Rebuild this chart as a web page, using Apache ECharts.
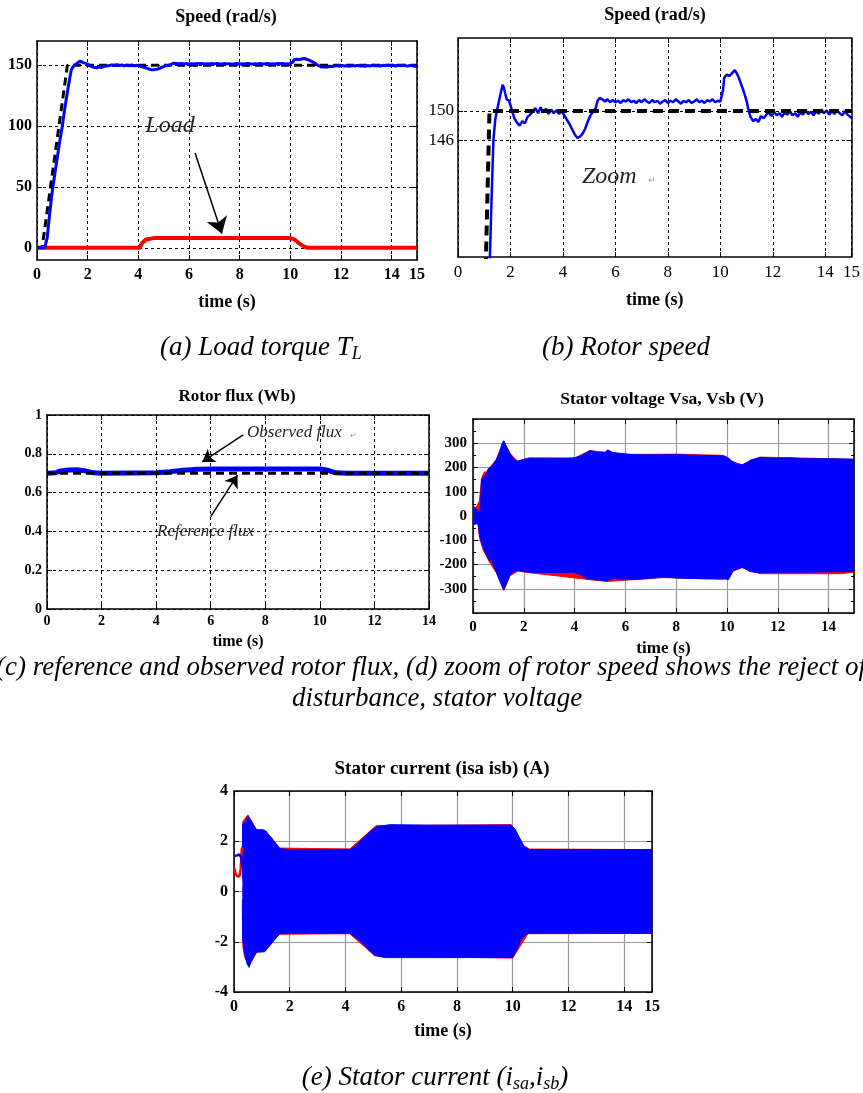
<!DOCTYPE html>
<html>
<head>
<meta charset="utf-8">
<script src="https://cdn.jsdelivr.net/npm/echarts@6/dist/echarts.min.js"></script>
<style>
html, body { margin: 0; padding: 0; background: #fff; }
#main { width: 863px; height: 1093px; }
</style>
</head>
<body>
<div id="main"></div>
<script>
// speed reference and measured speed (rad/s) vs time (s)
var speedRef = [[0, 0], [0.2, 0], [1.2, 150], [15, 150]];
var speedMeas = [
  [0, 0], [0.3, 0], [0.4, 8], [0.5, 28], [0.6, 46], [0.7, 60], [0.8, 74], [0.9, 88], [1.0, 100],
  [1.1, 115], [1.2, 128], [1.28, 138], [1.35, 146], [1.42, 148.8], [1.5, 150.3], [1.6, 152],
  [1.7, 153.6], [1.75, 153.2], [1.8, 152.4], [1.86, 151.6], [1.95, 151.4], [2.05, 150.2],
  [2.15, 149], [2.25, 148.4], [2.35, 148], [2.45, 148.6], [2.55, 148.3], [2.65, 149.2],
  [2.75, 149.5], [2.85, 149.9], [2.95, 150.4], [3.05, 149.7], [3.15, 150.5], [3.25, 149.8],
  [3.35, 150.3], [3.45, 149.6], [3.55, 150.2], [3.65, 149.7], [3.75, 150.1], [3.85, 149.6],
  [3.95, 150], [4.05, 149.4], [4.15, 148.8], [4.25, 148.2], [4.35, 147.5], [4.45, 146.8],
  [4.55, 146.3], [4.65, 146.5], [4.75, 146.9], [4.85, 147.6], [4.95, 148.6], [5.05, 149.4],
  [5.15, 149.9], [5.25, 150.4], [5.32, 151.4], [5.4, 151.8], [5.5, 151.6], [5.6, 151.3],
  [5.7, 151.6], [5.8, 151.2], [5.9, 151.5], [6.0, 151.2], [6.1, 151.4], [6.2, 151.1],
  [6.3, 151.5], [6.4, 151.3], [6.5, 151.6], [6.6, 151.2], [6.7, 151.4], [6.8, 151.1],
  [6.9, 151.5], [7.0, 151.2], [7.1, 151.6], [7.2, 151.3], [7.3, 151.1], [7.4, 151.5],
  [7.5, 151.2], [7.6, 151.4], [7.7, 151.0], [7.8, 151.3], [7.9, 151.5], [8.0, 151.1],
  [8.1, 151.4], [8.2, 151.2], [8.3, 151.6], [8.4, 151.3], [8.5, 151.0], [8.6, 151.4],
  [8.7, 151.2], [8.8, 151.5], [8.9, 151.1], [9.0, 151.3], [9.1, 151.6], [9.2, 151.2],
  [9.3, 151.4], [9.4, 151.1], [9.5, 151.5], [9.6, 151.3], [9.7, 151.6], [9.8, 151.2],
  [9.9, 151.4], [10.0, 151.3], [10.05, 151.5], [10.1, 152.8], [10.15, 154.6], [10.25, 155],
  [10.35, 154.8], [10.45, 155.2], [10.55, 155.6], [10.62, 155.2], [10.7, 154.6], [10.8, 153.6],
  [10.9, 152.6], [11.0, 151.4], [11.08, 150], [11.15, 149.2], [11.25, 148.6], [11.35, 148.9],
  [11.45, 148.5], [11.55, 149.3], [11.65, 149], [11.75, 149.5], [11.85, 149.8], [11.95, 149.3],
  [12.05, 149.9], [12.15, 149.4], [12.25, 149.7], [12.35, 149.2], [12.45, 149.8], [12.55, 149.5],
  [12.65, 150], [12.75, 149.4], [12.85, 149.7], [12.95, 149.2], [13.05, 149.8], [13.15, 149.5],
  [13.25, 150.1], [13.35, 149.6], [13.45, 149.9], [13.55, 149.4], [13.65, 150], [13.75, 149.6],
  [13.85, 150.2], [13.95, 149.7], [14.05, 150.1], [14.15, 149.5], [14.25, 150], [14.35, 149.6],
  [14.45, 150.1], [14.55, 149.7], [14.65, 149.4], [14.75, 150], [14.85, 149.5], [14.95, 149.2],
  [15, 149.1]
];
var loadTorque = [[0, 0], [4.05, 0], [4.15, 4], [4.3, 6.8], [4.6, 8], [10.0, 8], [10.15, 7],
  [10.35, 3.5], [10.55, 1], [10.7, 0], [15, 0]];

// rotor flux (Wb)
var fluxRef = [[0, 0.7], [14, 0.7]];
var fluxObs = [[0, 0.7], [0.3, 0.702], [0.5, 0.712], [0.8, 0.716], [1.1, 0.718], [1.4, 0.712],
  [1.7, 0.702], [2, 0.7], [4, 0.702], [4.5, 0.708], [5, 0.715], [5.5, 0.72], [6, 0.722],
  [10, 0.722], [10.3, 0.715], [10.6, 0.702], [11, 0.7], [14, 0.7]];

// stator voltage envelopes (V)
var vBlueUp = [[0, 25], [0.05, 38], [0.12, 35], [0.2, 20], [0.25, 5], [0.3, 40], [0.33, 150],
  [0.45, 160], [0.6, 195], [0.75, 205], [0.92, 232], [1.05, 265], [1.15, 300], [1.21, 310],
  [1.3, 290], [1.45, 259], [1.6, 235], [1.75, 226], [2.04, 234], [2.3, 237], [3, 236],
  [3.5, 237], [3.94, 239], [4.2, 245], [4.5, 262], [4.6, 270], [4.9, 262], [5.2, 262],
  [5.3, 273], [5.5, 262], [6.2, 254], [7, 252], [8, 253], [9, 250], [9.86, 248], [10.05, 240],
  [10.2, 225], [10.45, 212], [10.6, 211], [10.8, 222], [10.95, 232], [11.3, 241], [12, 238],
  [12.5, 240], [13, 236], [14, 236], [15, 234]];
var vBlueLow = [[0, -20], [0.05, -35], [0.12, -40], [0.2, -30], [0.26, -82], [0.4, -130],
  [0.55, -165], [0.66, -190], [0.7, -165], [0.8, -205], [0.92, -232], [1.05, -265], [1.21, -305],
  [1.3, -285], [1.45, -245], [1.6, -228], [1.77, -225], [2.23, -232], [3, -233], [3.94, -232],
  [4.2, -240], [4.47, -259], [4.8, -262], [5.26, -268], [5.5, -258], [6.4, -262], [7.5, -252],
  [8.5, -258], [9.86, -259], [10.06, -262], [10.25, -225], [10.6, -211], [10.9, -229],
  [11.3, -234], [12, -232], [13, -232], [14, -230], [15, -229]];
var vRedUp = [[0, 30], [0.15, 40], [0.25, 62], [0.3, 60], [0.35, 160], [0.45, 182], [0.55, 180],
  [0.65, 198], [0.92, 234], [1.21, 310], [1.45, 259], [1.75, 226], [2.2, 240], [4, 239],
  [4.6, 270], [6, 254], [8, 255], [9.86, 250], [10.2, 225], [10.6, 211], [11.3, 243], [15, 234]];
var vRedLow = [[0, -25], [0.2, -35], [0.26, -90], [0.4, -140], [0.66, -192], [0.92, -234],
  [1.21, -307], [1.45, -247], [1.77, -227], [2.23, -234], [4.47, -261], [5.26, -270],
  [7.5, -254], [9.86, -261], [10.25, -227], [10.6, -213], [11.3, -238], [14.5, -238], [15, -231]];

// stator current envelopes (A)
var iBlueUp = [[0.3, 0.5], [0.31, 2.7], [0.4, 2.75], [0.5, 3.0], [0.55, 3.05], [0.65, 2.75],
  [0.8, 2.46], [1.04, 2.46], [1.15, 2.4], [1.34, 2.13], [1.5, 1.9], [1.64, 1.71], [2, 1.66],
  [3, 1.67], [4.15, 1.68], [4.3, 1.75], [4.5, 1.97], [4.8, 2.3], [5.1, 2.58], [5.6, 2.66],
  [7, 2.64], [9, 2.64], [9.95, 2.64], [10.1, 2.46], [10.4, 1.8], [10.6, 1.67], [12, 1.67],
  [15, 1.67]];
var iBlueLow = [[0.3, -0.3], [0.31, -1.9], [0.38, -2.45], [0.46, -2.85], [0.54, -3.02],
  [0.6, -2.8], [0.8, -2.42], [1.1, -2.4], [1.34, -2.08], [1.64, -1.68], [2, -1.66],
  [4.15, -1.66], [4.5, -1.95], [5.05, -2.54], [5.4, -2.63], [10.0, -2.63], [10.2, -2.21],
  [10.3, -1.88], [10.55, -1.66], [15, -1.66]];
var iRedUp = [[0.3, 1.75], [0.32, 2.8], [0.5, 3.05], [0.55, 3.08], [0.8, 2.48], [1.34, 2.15],
  [1.64, 1.73], [4.15, 1.69], [5.1, 2.62], [9.95, 2.66], [10.4, 1.82], [10.6, 1.69], [15, 1.67]];
var iRedLow = [[0.3, -1.0], [0.32, -2.2], [0.38, -2.6], [0.54, -2.98], [0.8, -2.44],
  [1.64, -1.7], [4.15, -1.68], [5.05, -2.56], [10.0, -2.65], [10.55, -1.68], [15, -1.67]];
var iBlueStart = [[0, 1.4], [0.05, 1.47], [0.2, 1.47], [0.26, 1.35], [0.3, 1.0]];
var iRedStart = [[0, 0.95], [0.06, 0.7], [0.12, 0.6], [0.2, 0.62], [0.24, 0.9], [0.28, 1.7], [0.3, 1.75]];

var SERIF = '"Liberation Serif", "Times New Roman", serif';
var chart = echarts.init(document.getElementById('main'));

var grids = [], xAxes = [], yAxes = [];
function addPanel(p) {
  var gi = grids.length;
  grids.push({ left: p.left, top: p.top, width: p.width, height: p.height, show: false });
  var split = p.solid
    ? { show: true, lineStyle: { color: '#9a9a9a', width: 1.2, type: 'solid' } }
    : { show: true, lineStyle: { color: '#000', width: 1, type: [3, 3] } };
  var line = { onZero: false, lineStyle: { color: '#000', width: 1.5 } };
  var tick = { inside: true, length: 5, lineStyle: { color: '#000', width: 1 } };
  var lab = { color: '#000', fontFamily: SERIF, fontWeight: p.bold ? 'bold' : 'normal' };
  xAxes.push({
    gridIndex: gi, type: 'value', position: 'bottom', min: 0, max: p.xMax, interval: 2,
    axisLine: line, axisTick: tick, splitLine: split,
    axisLabel: Object.assign({ fontSize: p.xfs, margin: p.xMargin, showMaxLabel: p.xMaxLabel }, lab),
    name: 'time (s)', nameLocation: 'middle', nameGap: p.nameGap,
    nameTextStyle: { color: '#000', fontFamily: SERIF, fontWeight: 'bold', fontSize: p.nfs }
  });
  xAxes.push({
    gridIndex: gi, type: 'value', position: 'top', min: 0, max: p.xMax, interval: 2,
    axisLine: line, axisTick: tick, axisLabel: { show: false }, splitLine: { show: false }
  });
  var yMain = {
    gridIndex: gi, type: 'value', position: 'left', min: p.yMin, max: p.yMax,
    axisLine: line, axisTick: Object.assign({}, tick), splitLine: split,
    axisLabel: Object.assign({ fontSize: p.yfs, margin: p.yMargin }, lab)
  };
  var yRight = {
    gridIndex: gi, type: 'value', position: 'right', min: p.yMin, max: p.yMax,
    axisLine: line, axisTick: Object.assign({}, tick), axisLabel: { show: false }, splitLine: { show: false }
  };
  if (p.yCustom) {
    yMain.axisTick.customValues = p.yCustom;
    yMain.axisLabel.customValues = p.yCustom;
    yRight.axisTick.customValues = p.yCustom;
  } else {
    yMain.interval = p.yInterval;
    yRight.interval = p.yInterval;
  }
  if (p.yHideEnds) {
    yMain.axisLabel.showMinLabel = false;
    yMain.axisLabel.showMaxLabel = false;
  }
  if (p.minor) {
    yMain.minorTick = { show: true, splitNumber: 2, length: 3, lineStyle: { color: '#000' } };
    yRight.minorTick = { show: true, splitNumber: 2, length: 3, lineStyle: { color: '#000' } };
  }
  yAxes.push(yMain, yRight);
  return gi * 2;
}

var pa = addPanel({ left: 37, top: 41, width: 380, height: 219, xMax: 15, yMin: -10, yMax: 170,
  yCustom: [0, 50, 100, 150], bold: true, xfs: 16, yfs: 16, xMargin: 7, yMargin: 5, xMaxLabel: true,
  nameGap: 33, nfs: 18 });
var pb = addPanel({ left: 458, top: 38, width: 395, height: 219, xMax: 15, yMin: 130, yMax: 160,
  yCustom: [146, 150], bold: false, xfs: 17, yfs: 17, xMargin: 7, yMargin: 4, xMaxLabel: true,
  nameGap: 34, nfs: 18 });
var pc = addPanel({ left: 47, top: 415, width: 382, height: 194, xMax: 14, yMin: 0, yMax: 1,
  yInterval: 0.2, bold: true, xfs: 14, yfs: 14, xMargin: 5, yMargin: 5, xMaxLabel: true,
  nameGap: 25, nfs: 16 });
var pd = addPanel({ left: 473, top: 419, width: 381, height: 194, xMax: 15, yMin: -400, yMax: 400,
  yInterval: 100, yHideEnds: true, minor: true, solid: true, bold: true, xfs: 15, yfs: 15,
  xMargin: 7, yMargin: 6, xMaxLabel: false, nameGap: 27, nfs: 17 });
var pe = addPanel({ left: 234, top: 791, width: 418, height: 201, xMax: 15, yMin: -4, yMax: 4,
  yInterval: 2, solid: true, bold: true, xfs: 16, yfs: 16, xMargin: 7, yMargin: 6, xMaxLabel: true,
  nameGap: 30, nfs: 18 });

function line(ax, data, color, width, dash, z) {
  return { type: 'line', xAxisIndex: ax, yAxisIndex: ax, data: data, showSymbol: false, silent: true,
    lineStyle: { color: color, width: width, type: dash || 'solid' }, z: z || 2 };
}
// envelope filled towards a base slightly past zero so the two halves overlap
function band(ax, data, color, z, base) {
  return { type: 'line', xAxisIndex: ax, yAxisIndex: ax, data: data, showSymbol: false, silent: true,
    lineStyle: { color: color, width: 1 }, areaStyle: { color: color, opacity: 1, origin: base }, z: z };
}
function arrow(from, to, size) {
  return { silent: true, symbol: ['none', 'arrow'], symbolSize: size, label: { show: false },
    lineStyle: { color: '#000', width: 1.5, type: 'solid' }, data: [[{ coord: from }, { coord: to }]] };
}

var sA = line(pa, speedMeas, '#0000ff', 3, null, 3);
var sALoad = line(pa, loadTorque, '#ff0000', 4, null, 2);
sALoad.markLine = arrow([6.24, 78], [7.3, 11.5], 16);

var sC = line(pc, fluxObs, '#0000ff', 5, null, 2);
sC.markLine = arrow([7.19, 0.897], [5.69, 0.758], 12);
var sCRef = line(pc, fluxRef, '#000', 3, [8, 5], 3);
sCRef.markLine = arrow([6.0, 0.476], [6.98, 0.69], 12);

var series = [
  line(pa, speedRef, '#000', 3, [8, 5], 2), sA, sALoad,
  line(pb, speedRef, '#000', 4, [10, 6], 3), line(pb, speedMeas, '#0000ff', 2.5, null, 2),
  sC, sCRef,
  band(pd, vRedUp, '#ff0000', 1, -10), band(pd, vRedLow, '#ff0000', 1, 10),
  band(pd, vBlueUp, '#0000ff', 2, -10), band(pd, vBlueLow, '#0000ff', 2, 10),
  band(pe, iRedUp, '#ff0000', 1, -0.2), band(pe, iRedLow, '#ff0000', 1, 0.2),
  band(pe, iBlueUp, '#0000ff', 2, -0.2), band(pe, iBlueLow, '#0000ff', 2, 0.2),
  line(pe, iRedStart, '#ff0000', 2.5, null, 3), line(pe, iBlueStart, '#0000ff', 2.5, null, 3)
];

function txt(x, y, text, font, color, align) {
  return { type: 'text', x: x, y: y, silent: true,
    style: { text: text, font: font, fill: color || '#000', align: align || 'center', verticalAlign: 'middle' } };
}
var capFont = 'italic 27px ' + SERIF;
var subFont = 'italic 18px ' + SERIF;
var graphics = [
  txt(226, 17, 'Speed (rad/s)', 'bold 18px ' + SERIF),
  txt(655, 15, 'Speed (rad/s)', 'bold 18px ' + SERIF),
  txt(237, 397, 'Rotor flux (Wb)', 'bold 17px ' + SERIF),
  txt(662, 399, 'Stator voltage Vsa, Vsb (V)', 'bold 17.5px ' + SERIF),
  txt(442, 769, 'Stator current (isa isb) (A)', 'bold 19px ' + SERIF),
  txt(170, 126, 'Load', 'italic 24px ' + SERIF, '#222'),
  txt(582, 177, 'Zoom', 'italic 24px ' + SERIF, '#222', 'left'),
  txt(648, 181, '\u21b5', '9px ' + SERIF, '#999', 'left'),
  txt(247, 433, 'Observed flux', 'italic 17px ' + SERIF, '#222', 'left'),
  txt(350, 436, '\u21b5', '8px ' + SERIF, '#999', 'left'),
  txt(157, 532, 'Reference flux', 'italic 17px ' + SERIF, '#222', 'left'),
  txt(265, 535, '\u21b5', '8px ' + SERIF, '#999', 'left'),
  {
    type: 'text', x: 261, y: 348, silent: true,
    style: {
      text: '{m|(a) Load torque T}{s|L}', align: 'center', verticalAlign: 'middle',
      rich: {
        m: { font: capFont, fill: '#000', lineHeight: 30 },
        s: { font: subFont, fill: '#000', lineHeight: 18, verticalAlign: 'bottom' }
      }
    }
  },
  txt(626, 348, '(b) Rotor speed', capFont),
  txt(431, 668, '(c) reference and observed rotor flux, (d) zoom of rotor speed shows the reject of', capFont),
  txt(437, 699, 'disturbance, stator voltage', capFont),
  {
    type: 'text', x: 435, y: 1078, silent: true,
    style: {
      text: '{m|(e) Stator current (i}{s|sa}{m|,i}{s|sb}{m|)}', align: 'center', verticalAlign: 'middle',
      rich: {
        m: { font: capFont, fill: '#000', lineHeight: 30 },
        s: { font: subFont, fill: '#000', lineHeight: 18, verticalAlign: 'bottom' }
      }
    }
  }
];

chart.setOption({
  animation: false,
  backgroundColor: '#fff',
  grid: grids,
  xAxis: xAxes,
  yAxis: yAxes,
  series: series,
  graphic: graphics
});
</script>
</body>
</html>
